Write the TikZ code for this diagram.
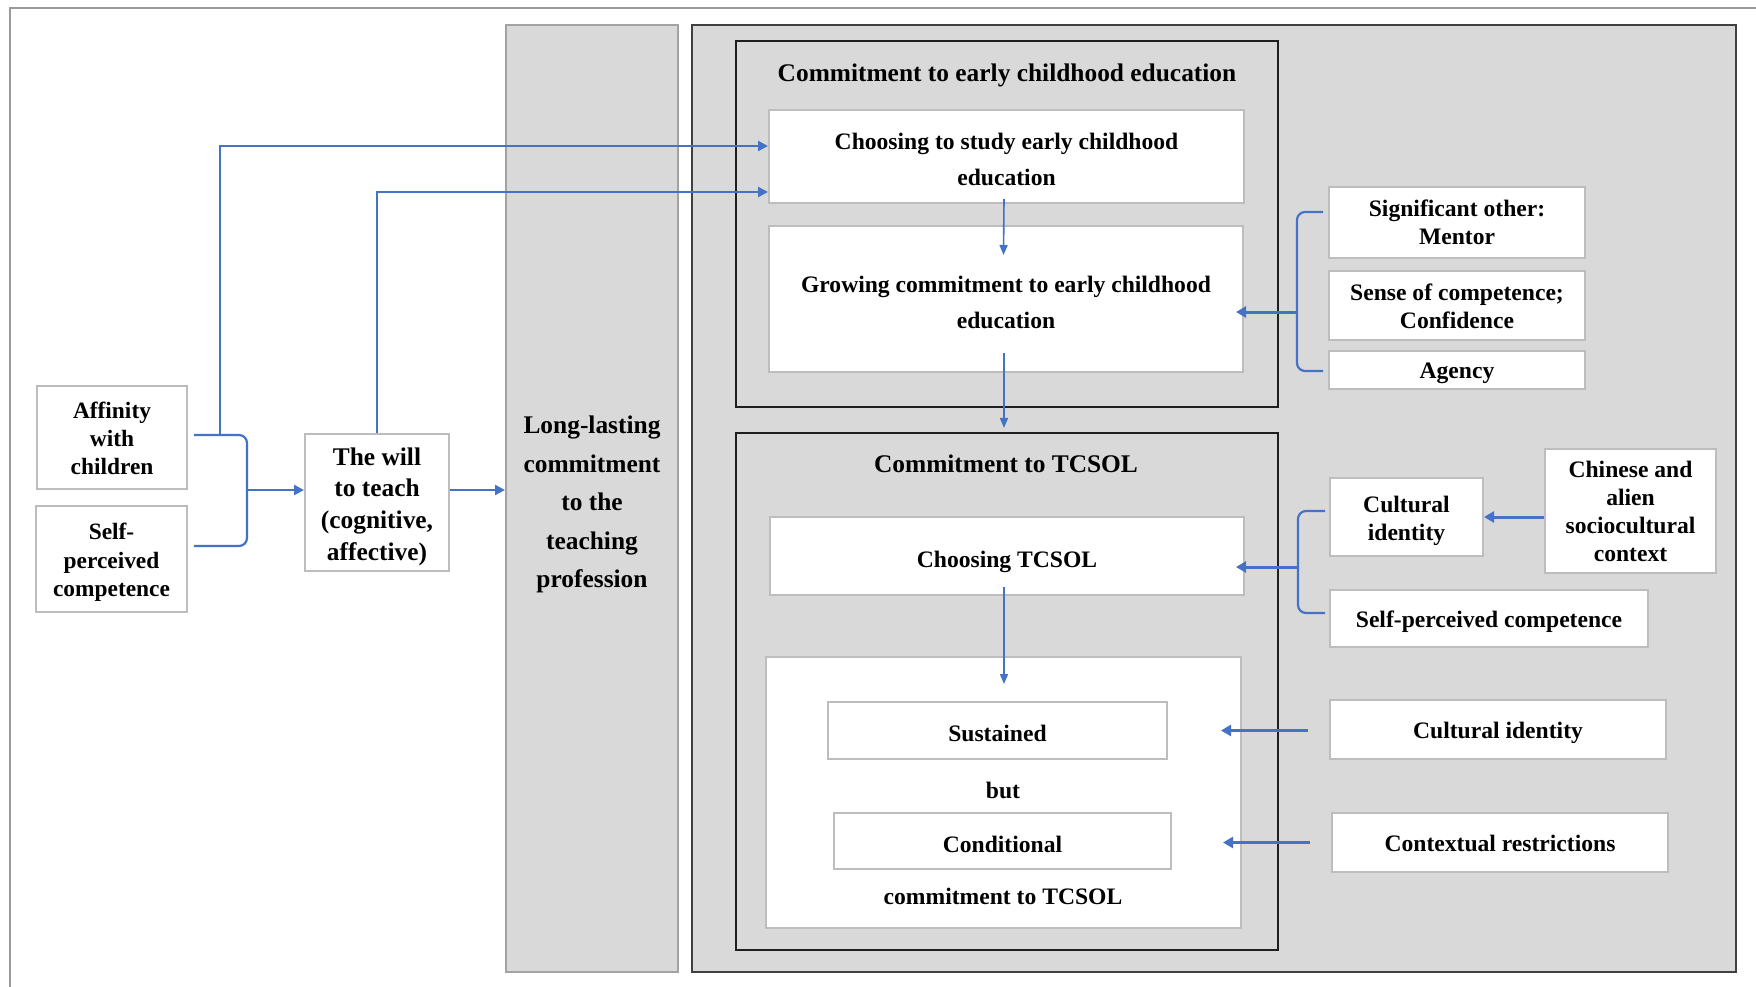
\documentclass[tikz,border=0pt]{standalone}
\usepackage{fontspec}
\setmainfont{Liberation Serif}
\usetikzlibrary{calc,arrows.meta}
\definecolor{linkblue}{HTML}{4472C4}
\definecolor{panelgray}{HTML}{D9D9D9}
\definecolor{edgegray}{HTML}{BDBDBD}
\definecolor{framegray}{HTML}{9A9A9A}
\definecolor{colgray}{HTML}{A3A3A3}
\newcommand\fsz[2]{\fontsize{#1}{#2}\selectfont\bfseries}

\begin{document}
\begin{tikzpicture}[x=0.5pt,y=-0.5pt,
  sized/.style 2 args={minimum width=#1, minimum height=#2},
  wbox/.style={draw=edgegray, line width=1pt, fill=white, inner sep=0pt},
  panel/.style={draw=black!88, line width=1.1pt, fill=panelgray, inner sep=0pt},
  tx/.style={inner sep=0pt, align=center, font=\fsz{11.8}{14}},
  txw/.style={tx, font=\fsz{11.8}{18}},
  conn/.style={draw=linkblue, line width=1.1pt},
  arr/.style={conn, -{Triangle[length=5pt,width=5pt]}},
  arrthick/.style={draw=linkblue, line width=1.5pt, -{Triangle[length=5pt,width=5.5pt]}},
  arrthin/.style={draw=linkblue, line width=0.8pt, -{Triangle[length=5pt,width=4pt]}},
  ttl/.style={inner sep=0pt, align=center, font=\fsz{12.7}{15}}
]
\useasboundingbox (0,0) rectangle (1756,986);
\clip (0,0) rectangle (1756,986);
\fill[white] (0,0) rectangle (1756,986);

% outer frame
\draw[framegray, line width=0.8pt] (10,1100) -- (10,8) -- (1900,8);

% long-lasting column
\node[draw=colgray, line width=1pt, fill=panelgray, inner sep=0pt, sized={86pt}{473.5pt},
      label={[name=llT, tx, font=\fsz{12.7}{19.3}, yshift=-3pt]center:Long-lasting\\commitment\\to the\\teaching\\profession}]
      (ll) at (592,498.5) {};

% right gray panel
\node[draw=black!75, line width=1.2pt, fill=panelgray, inner sep=0pt, sized={522pt}{473.5pt}] (bp) at (1214,498.5) {};

% panel: early childhood education
\node[panel, sized={271pt}{183pt}] (p1) at (1007,224) {};
\node[ttl] (t1) at (1007,75) {Commitment to early childhood education};
\node[wbox, sized={237.5pt}{46.5pt},
      label={[name=csT, txw, yshift=-1.7pt]center:Choosing to study early childhood\\education}]
      (cs) at (1006.5,156.5) {};
\node[wbox, sized={237pt}{73pt},
      label={[name=grT, txw, yshift=-1.7pt]center:Growing commitment to early childhood\\education}]
      (gr) at (1006,299) {};

% panel: TCSOL
\node[panel, sized={271pt}{258.5pt}] (p2) at (1007,691.5) {};
\node[ttl] (t2) at (1006,464) {Commitment to TCSOL};
\node[wbox, sized={237pt}{39pt}, label={[name=ctT, tx, yshift=-2.8pt]center:Choosing TCSOL}] (ct) at (1007,556) {};
\node[wbox, sized={237.5pt}{135.5pt}] (wb) at (1003.5,792.5) {};
\node[wbox, sized={169.5pt}{28.5pt}, label={[name=suT, tx, yshift=-1.7pt]center:Sustained}] (su) at (997.5,730.5) {};
\node[tx] (but) at (1003,790) {but};
\node[wbox, sized={168.5pt}{28pt}, label={[name=cdT, tx, yshift=-1.7pt]center:Conditional}] (cd) at (1002.5,841) {};
\node[tx] (ctc) at (1003,896) {commitment to TCSOL};

% influencing factors
\node[wbox, sized={128pt}{35.5pt}, label={[name=sigT, tx]center:Significant other:\\Mentor}] (sig) at (1457,222.5) {};
\node[wbox, sized={128pt}{34.5pt}, label={[name=senT, tx, yshift=-0.5pt]center:Sense of competence;\\Confidence}] (sen) at (1457,305.5) {};
\node[wbox, sized={128pt}{19pt}, label={[name=agT, tx, yshift=-1.7pt]center:Agency}] (ag) at (1457,370) {};
\node[wbox, sized={76.5pt}{39pt}, label={[name=ciT, tx, yshift=-2pt]center:Cultural\\identity}] (ci) at (1406.5,517) {};
\node[wbox, sized={85.5pt}{62pt}, label={[name=chT, tx]center:Chinese and\\alien\\sociocultural\\context}] (ch) at (1630.5,511) {};
\node[wbox, sized={159pt}{28.5pt}, label={[name=spcT, tx, yshift=-1.7pt]center:Self-perceived competence}] (spc) at (1489,618.5) {};
\node[wbox, sized={168pt}{29.5pt}, label={[name=ci2T, tx, yshift=-1.7pt]center:Cultural identity}] (ci2) at (1498,729.5) {};
\node[wbox, sized={168pt}{29.5pt}, label={[name=crT, tx, yshift=-0.5pt]center:Contextual restrictions}] (cr) at (1500,842.5) {};

% left side
\node[wbox, sized={75pt}{51.5pt}, label={[name=affT, tx, font=\fsz{11.7}{14}, yshift=-0.5pt]center:Affinity\\with\\children}] (aff) at (112,437.5) {};
\node[wbox, sized={75.5pt}{53pt}, label={[name=spT, tx, font=\fsz{11.7}{14.2}, yshift=-1.7pt]center:Self-\\perceived\\competence}] (sp) at (111.5,559) {};
\node[wbox, sized={72pt}{68.5pt}, label={[name=willT, tx, font=\fsz{12.7}{15.8}, yshift=-2pt]center:The will\\to teach\\(cognitive,\\affective)}] (will) at (377,502.5) {};

% left bracket and arrows
\coordinate (ja) at ($(aff.east)+(6,-2.5)$);
\coordinate (jb) at ($(sp.east)+(6,-13)$);
\coordinate (jm) at (247,490);
\coordinate (jt) at (220,435);
\draw[conn, rounded corners=4pt] (ja) -| (jm) |- (jb);
\draw[arr] (jm) -- (jm -| will.west);
\draw[arr] (will.east |- jm) -- (jm -| ll.west);
\draw[arr] (jt) |- ($(cs.west)+(0,-10.5)$);
\draw[arr] (will.north) |- ($(cs.west)+(0,35.5)$);

% vertical flow
\draw[arrthin] ($(cs.south)+(-2.5,-5)$) -- ($(gr.north)+(-2.5,30)$);
\draw[arrthin] ($(gr.south)+(-2,-20)$) -- ($(p2.north)+(-3,-4)$);
\draw[arrthin] ($(ct.south)+(-3,-9)$) -- ($(wb.north)+(0.5,28)$);

% bracket: early childhood factors
\coordinate (r1t) at ($(sig.west)+(-5,-10.5)$);
\coordinate (r1b) at ($(ag.west)+(-5,1)$);
\coordinate (r1m) at (1297,312);
\draw[conn, rounded corners=4pt] (r1t) -| (r1m) |- (r1b);
\draw[arrthick] (r1m) -- ($(r1m -| gr.east)+(-8,0)$);

% bracket: TCSOL factors
\coordinate (r2t) at ($(ci.west)+(-4,-6)$);
\coordinate (r2b) at ($(spc.west)+(-4,-5.5)$);
\coordinate (r2m) at (1298,567);
\draw[conn, rounded corners=4pt] (r2t) -| (r2m) |- (r2b);
\draw[arrthick] (r2m) -- ($(r2m -| ct.east)+(-9,0)$);

\draw[arrthick] (ch.west |- ci.east) -- (ci.east);
\draw[arrthick] ($(ci2.west)+(-21,1)$) -- ($(wb.east |- ci2.west)+(-21,1)$);
\draw[arrthick] ($(cr.west)+(-21,0)$) -- ($(wb.east |- cr.west)+(-19,0)$);
\end{tikzpicture}
\end{document}
